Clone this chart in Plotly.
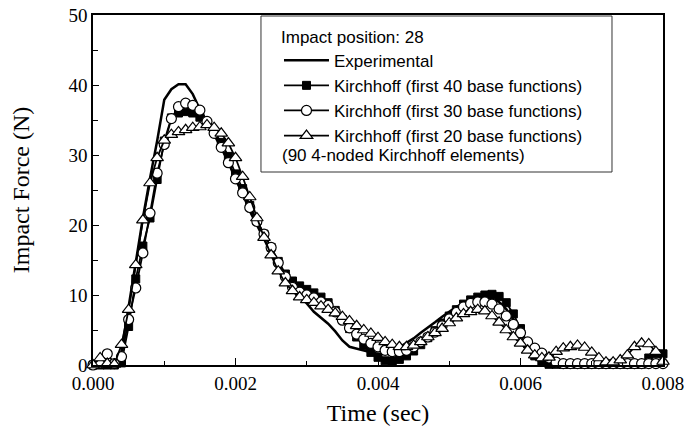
import plotly.graph_objects as go

# time grid (sec) - marker every 0.0001 s
time_s = [0.0000, 0.0001, 0.0002, 0.0003, 0.0004, 0.0005, 0.0006, 0.0007, 0.0008, 0.0009,
          0.0010, 0.0011, 0.0012, 0.0013, 0.0014, 0.0015, 0.0016, 0.0017, 0.0018, 0.0019,
          0.0020, 0.0021, 0.0022, 0.0023, 0.0024, 0.0025, 0.0026, 0.0027, 0.0028, 0.0029,
          0.0030, 0.0031, 0.0032, 0.0033, 0.0034, 0.0035, 0.0036, 0.0037, 0.0038, 0.0039,
          0.0040, 0.0041, 0.0042, 0.0043, 0.0044, 0.0045, 0.0046, 0.0047, 0.0048, 0.0049,
          0.0050, 0.0051, 0.0052, 0.0053, 0.0054, 0.0055, 0.0056, 0.0057, 0.0058, 0.0059,
          0.0060, 0.0061, 0.0062, 0.0063, 0.0064, 0.0065, 0.0066, 0.0067, 0.0068, 0.0069,
          0.0070, 0.0071, 0.0072, 0.0073, 0.0074, 0.0075, 0.0076, 0.0077, 0.0078, 0.0079,
          0.0080]

experimental = [0, 0, 0, 0, 2.0, 8.5, 15.0, 21.0, 26.7, 32.0,
                37.9, 39.4, 40.1, 40.1, 38.7, 36.5, 34.8, 33.0, 31.0, 29.0,
                26.5, 24.5, 22.0, 20.0, 18.0, 16.0, 14.0, 12.3, 10.8, 9.8,
                8.8, 7.6, 6.8, 5.9, 4.8, 3.5, 2.6, 2.3, 2.1, 1.8,
                1.6, 1.6, 1.9, 2.5, 3.1, 3.8, 4.6, 5.3, 6.1, 6.9,
                7.6, 8.3, 8.8, 9.2, 9.5, 9.6, 9.5, 9.0, 8.0, 6.5,
                4.5, 2.5, 1.0, 0.3, 0, 0, 0, 0, 0, 0,
                0, 0, 0, 0, 0, 0, 0, 0, 0, 0,
                0]

kirch40 = [0, 0, 0, 0, 0.3, 5.5, 12.3, 17.0, 21.0, 26.5,
           32.0, 35.3, 36.0, 36.2, 36.0, 35.4, 34.5, 33.3, 31.8, 29.8,
           27.3, 25.2, 22.8, 20.6, 18.7, 16.8, 14.8, 13.0, 12.0, 11.3,
           10.8, 10.3, 9.7, 8.9, 7.8, 6.5, 5.2, 4.0, 2.8, 1.8,
           1.1, 0.6, 0.5, 0.8, 1.3, 2.0, 2.9, 3.9, 4.9, 6.0,
           7.0, 7.9, 8.7, 9.3, 9.7, 10.0, 10.1, 9.8, 8.9, 7.3,
           5.2, 3.0, 1.3, 0.4, 0.1, 0.1, 0.1, 0.1, 0.1, 0.1,
           0.1, 0.1, 0.1, 0.1, 0.1, 0.1, 0.1, 0.1, 1.0, 1.6,
           1.6]

kirch30 = [0, 0.3, 1.6, 0.2, 1.2, 6.5, 11.0, 16.0, 21.7, 27.4,
           31.5, 35.2, 36.9, 37.4, 37.1, 36.4, 34.8, 33.1, 31.1, 28.9,
           26.6, 24.6, 22.5, 20.5, 18.7, 16.8, 14.6, 12.6, 11.1, 10.4,
           10.0, 9.6, 9.0, 8.5, 7.6, 6.4, 5.3, 4.4, 3.7, 3.1,
           2.6, 2.1, 1.9, 1.9, 2.1, 2.6, 3.3, 4.0, 4.7, 5.6,
           6.6, 7.5, 8.3, 8.8, 9.0, 9.0, 8.7, 8.0, 7.0, 5.8,
           4.6, 3.3, 2.4, 1.7, 1.0, 0.4, 0.2, 0.2, 0.2, 0.2,
           0.2, 0.2, 0.2, 0.2, 0.2, 0.2, 0.2, 0.2, 0.2, 0.2,
           0.2]

kirch20 = [0, 1.0, 0.2, 0.1, 2.9, 7.9, 14.3, 20.7, 26.0, 29.6,
           32.1, 32.9, 33.3, 33.6, 33.9, 34.0, 34.3, 33.9, 33.1, 31.7,
           29.6, 26.9, 24.0, 21.0, 18.2, 15.7, 13.4, 11.7, 10.6, 9.7,
           9.3, 8.9, 8.4, 7.9, 7.4, 6.9, 6.3, 5.6, 5.0, 4.5,
           3.9, 3.3, 2.9, 2.6, 2.6, 2.8, 3.3, 4.0, 4.6, 5.2,
           6.0, 6.7, 7.3, 7.6, 7.9, 7.7, 7.0, 6.1, 5.0, 4.0,
           3.1, 2.1, 1.4, 1.0, 1.1, 1.9, 2.4, 2.6, 2.8, 2.5,
           1.8, 1.0, 0.4, 0.4, 0.7, 1.4, 2.6, 3.1, 3.0, 1.9,
           0.5]

x_tick_vals = [0.000, 0.002, 0.004, 0.006, 0.008]
x_tick_text = ["0.000", "0.002", "0.004", "0.006", "0.008"]
y_tick_vals = [0, 10, 20, 30, 40, 50]

legend_title = "Impact position: 28"
legend_note = "(90 4-noded Kirchhoff elements)"

serif = "Liberation Serif, Times New Roman, serif"
sans = "Liberation Sans, Arial, sans-serif"

fig = go.Figure()
fig.add_trace(go.Scatter(x=time_s, y=experimental, mode="lines", name="Experimental",
                         line=dict(color="black", width=2.5), cliponaxis=False))
fig.add_trace(go.Scatter(x=time_s, y=kirch40, mode="lines+markers",
                         name="Kirchhoff (first 40 base functions)",
                         line=dict(color="black", width=1.8),
                         marker=dict(symbol="square", size=8, color="black",
                                     line=dict(color="black", width=1)),
                         cliponaxis=False))
fig.add_trace(go.Scatter(x=time_s, y=kirch30, mode="lines+markers",
                         name="Kirchhoff (first 30 base functions)",
                         line=dict(color="black", width=1.8),
                         marker=dict(symbol="circle", size=10, color="white",
                                     line=dict(color="black", width=1.2)),
                         cliponaxis=False))
fig.add_trace(go.Scatter(x=time_s, y=kirch20, mode="lines+markers",
                         name="Kirchhoff (first 20 base functions)",
                         line=dict(color="black", width=1.8),
                         marker=dict(symbol="triangle-up", size=11, color="white",
                                     line=dict(color="black", width=1.2)),
                         cliponaxis=False))

fig.update_xaxes(range=[-0.0000001, 0.0080001], tickvals=x_tick_vals, ticktext=x_tick_text,
                 ticks="inside", ticklen=7, tickwidth=1.2, tickcolor="black",
                 minor=dict(tickvals=[0.001, 0.003, 0.005, 0.007], ticks="inside",
                            ticklen=4, tickwidth=1.2, tickcolor="black"),
                 showline=True, linecolor="black", linewidth=1.5, mirror=True,
                 showgrid=False, zeroline=False, ticklabeloverflow="allow",
                 tickfont=dict(family=serif, size=19, color="black"),
                 title=dict(text="Time (sec)", font=dict(family=serif, size=24, color="black"), standoff=12))
fig.update_yaxes(range=[0, 50], tickvals=y_tick_vals,
                 ticks="inside", ticklen=6, tickwidth=1.2, tickcolor="black",
                 minor=dict(tickvals=[5, 15, 25, 35, 45], ticks="inside",
                            ticklen=5, tickwidth=1.2, tickcolor="black"),
                 showline=True, linecolor="black", linewidth=1.5, mirror=True,
                 showgrid=False, zeroline=False, ticklabeloverflow="allow",
                 tickfont=dict(family=serif, size=19, color="black"),
                 title=dict(text="Impact Force (N)", font=dict(family=serif, size=24, color="black"), standoff=32))

fig.add_shape(type="rect", xref="paper", yref="paper",
              x0=0.2947, x1=0.9105, y0=0.5514, y1=0.9971,
              line=dict(color="#333333", width=1), fillcolor="rgba(0,0,0,0)", layer="below")
fig.add_annotation(text=legend_note, xref="paper", yref="paper", x=0.3285, y=0.60,
                   xanchor="left", yanchor="middle", showarrow=False,
                   font=dict(family=sans, size=17, color="black"))

fig.update_layout(
    width=684, height=429,
    margin=dict(l=93, r=21, t=15, b=64, autoexpand=False),
    plot_bgcolor="white", paper_bgcolor="white",
    showlegend=True,
    legend=dict(x=0.3263, y=0.984, xanchor="left", yanchor="top",
                bgcolor="rgba(0,0,0,0)", borderwidth=0,
                font=dict(family=sans, size=17, color="black"),
                title=dict(text=legend_title, font=dict(family=sans, size=17, color="black")),
                itemwidth=45, tracegroupgap=0),
)

# remove the default 8px page margin so the figure sits at the window's top-left corner
fig.write_html("out.html", config={"displayModeBar": False},
               post_script="document.body.style.margin='0';")
